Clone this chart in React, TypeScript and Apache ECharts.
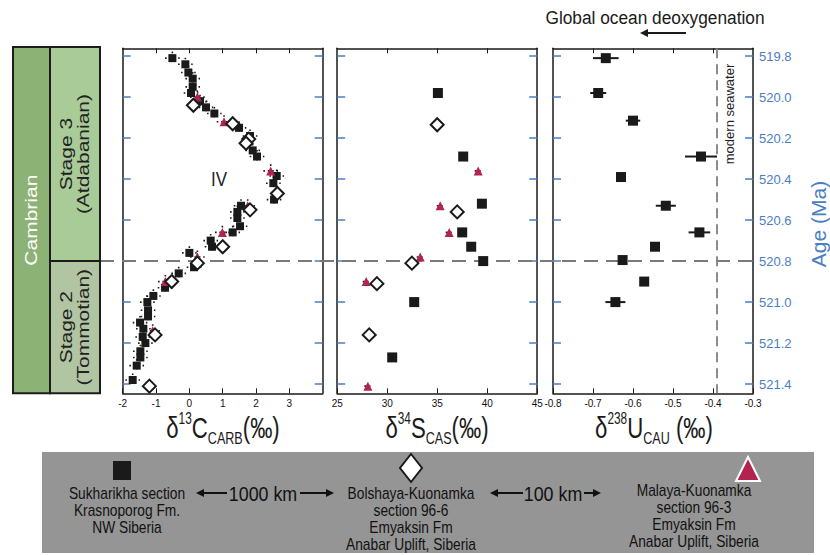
import React, { useEffect, useRef } from "react";
import * as echarts from "echarts";

// ---------- data ----------
const AGE_MIN = 519.762;
const AGE_MAX = 521.445;
const AGE_TICKS = [519.8, 520.0, 520.2, 520.4, 520.6, 520.8, 521.0, 521.2, 521.4];
const STAGE_BOUNDARY = 520.8;

const C_MIN = -2, C_MAX = 4;
const C_LABELS = [-2, -1, 0, 1, 2, 3];
const C_TOP_TICKS = [-1, 0, 1, 2, 3];
const S_MIN = 25, S_MAX = 45;
const S_LABELS = [25, 30, 35, 40, 45];
const S_TOP_TICKS = [30, 35, 40];
const U_MIN = -0.8, U_MAX = -0.3;
const U_LABELS = [-0.8, -0.7, -0.6, -0.5, -0.4, -0.3];
const U_TOP_TICKS = [-0.7, -0.6, -0.5, -0.4];
const MODERN_SEAWATER_U = -0.39;

// [delta13C, age]
const C_SUK = [
  [-0.51, 519.81], [-0.12, 519.84], [-0.03, 519.88], [0.1, 519.91], [0.1, 519.95],
  [0.05, 519.98], [0.32, 520.02], [0.5, 520.05], [0.75, 520.08], [1.49, 520.15],
  [1.82, 520.19], [1.9, 520.26], [2.03, 520.29], [2.62, 520.385], [2.52, 520.42],
  [2.54, 520.5], [1.55, 520.53], [1.44, 520.56], [1.44, 520.59], [1.52, 520.63],
  [1.3, 520.66], [0.64, 520.7], [0.68, 520.73], [0.0, 520.76], [0.14, 520.83],
  [-0.32, 520.86], [-0.73, 520.93], [-1.08, 520.97], [-1.26, 521.0], [-1.24, 521.04],
  [-1.24, 521.07], [-1.48, 521.1], [-1.38, 521.13], [-1.4, 521.17], [-1.32, 521.2],
  [-1.47, 521.24], [-1.47, 521.27], [-1.58, 521.31], [-1.7, 521.38],
];
const C_BOL = [
  [0.12, 520.04], [1.3, 520.13], [1.78, 520.205], [1.7, 520.225], [2.64, 520.47],
  [1.82, 520.55], [1.0, 520.73], [0.24, 520.81], [-0.53, 520.9], [-1.03, 521.16], [-1.2, 521.41],
];
const C_MAL = [
  [0.24, 520.0], [1.04, 520.12], [2.44, 520.36], [1.75, 520.53], [0.99, 520.66],
  [0.24, 520.78], [-0.72, 520.9], [-1.1, 521.14],
];
const C_ERR = 0.22;
const C_AGE_ERR = 0.032;

// [delta34S, age]
const S_SUK = [
  [35.07, 519.98], [37.6, 520.29], [39.47, 520.52], [37.5, 520.66],
  [38.4, 520.73], [39.6, 520.8], [32.7, 521.0], [30.5, 521.27],
];
const S_BOL = [[35.0, 520.135], [37.0, 520.56], [32.47, 520.81], [28.97, 520.91], [28.2, 521.16]];
const S_MAL = [[39.1, 520.36], [35.3, 520.53], [36.2, 520.66], [33.3, 520.78], [27.9, 520.9], [28.07, 521.41]];
const S_ERR = 0.35;

// [delta238U, age, 2sd]
const U_SUK = [
  [-0.668, 519.81, 0.032], [-0.687, 519.98, 0.02], [-0.6, 520.115, 0.018], [-0.43, 520.29, 0.04],
  [-0.63, 520.39, 0], [-0.518, 520.53, 0.025], [-0.434, 520.66, 0.027], [-0.545, 520.73, 0],
  [-0.626, 520.795, 0], [-0.572, 520.9, 0], [-0.644, 521.0, 0.025],
];

// ---------- styles ----------
const FONT = "'Liberation Sans', Arial, Helvetica, sans-serif";
const BLUE = "#4a7ec4";
const INK = "#1a1a1a";
const CRIMSON = "#b3234f";
const GRID_TOP = 48.3;
const GRID_H = 345;
const GRID_W = 200;
const GRID_LEFTS = [122.7, 337.2, 553];

function xAxes(gi: number, min: number, max: number, labels: number[], top: number[]) {
  const line = { show: true, onZero: false, lineStyle: { color: INK, width: 1.5 } };
  return [
    {
      gridIndex: gi, type: "value", min, max, position: "bottom",
      axisLine: line,
      axisTick: { show: true, inside: true, length: 5, customValues: labels, lineStyle: { color: INK, width: 1 } },
      axisLabel: { show: true, customValues: labels, fontSize: 10, color: "#111", margin: 5, fontFamily: FONT },
      splitLine: { show: false },
    },
    {
      gridIndex: gi, type: "value", min, max, position: "top",
      axisLine: line,
      axisTick: { show: true, inside: true, length: 5, customValues: top, lineStyle: { color: INK, width: 1 } },
      axisLabel: { show: false },
      splitLine: { show: false },
    },
  ];
}

function yAxes(gi: number, showRightLabels: boolean) {
  const base = {
    gridIndex: gi, type: "value", min: AGE_MIN, max: AGE_MAX, inverse: true,
    axisLine: { show: true, onZero: false, lineStyle: { color: INK, width: 1.5 } },
    axisTick: { show: true, inside: true, length: 8, customValues: AGE_TICKS, lineStyle: { color: BLUE, width: 1.5 } },
    splitLine: { show: false },
  };
  return [
    { ...base, position: "left", axisLabel: { show: false } },
    {
      ...base, position: "right",
      axisLabel: showRightLabels
        ? { show: true, customValues: AGE_TICKS, color: BLUE, fontSize: 13, fontFamily: FONT, margin: 6, formatter: (v: number) => v.toFixed(1) }
        : { show: false },
    },
  ];
}

function dotBars(points: number[][], ex: number, ey: number, idx: number) {
  return {
    type: "custom", xAxisIndex: idx, yAxisIndex: idx, z: 1, silent: true,
    encode: { x: 0, y: 1 },
    data: points.map((d) => [d[0], d[1]]),
    renderItem: (_p: any, api: any) => {
      const x = api.value(0), y = api.value(1);
      const a = api.coord([x - ex, y]), b = api.coord([x + ex, y]);
      const st = { stroke: INK, lineWidth: 1.6, lineDash: [1.6, 2.8], fill: "none" };
      const children: any[] = [{ type: "line", shape: { x1: a[0], y1: a[1], x2: b[0], y2: b[1] }, style: st }];
      if (ey > 0) {
        const c = api.coord([x, y - ey]), d = api.coord([x, y + ey]);
        children.push({ type: "line", shape: { x1: c[0], y1: c[1], x2: d[0], y2: d[1] }, style: st });
      }
      return { type: "group", children };
    },
  };
}

function uBars() {
  return {
    type: "custom", xAxisIndex: 4, yAxisIndex: 4, z: 1, silent: true,
    encode: { x: 0, y: 1 },
    data: U_SUK.filter((d) => d[2] > 0),
    renderItem: (_p: any, api: any) => {
      const x = api.value(0), y = api.value(1), e = api.value(2);
      const a = api.coord([x - e, y]), b = api.coord([x + e, y]);
      return { type: "line", shape: { x1: a[0], y1: a[1], x2: b[0], y2: b[1] }, style: { stroke: INK, lineWidth: 2 } };
    },
  };
}

const sq = (data: number[][], idx: number, size: number) => ({
  type: "scatter", xAxisIndex: idx, yAxisIndex: idx, z: 3, symbol: "rect", symbolSize: size,
  itemStyle: { color: INK, opacity: 1 }, data: data.map((d) => [d[0], d[1]]),
});
const tri = (data: number[][], idx: number, size: number) => ({
  type: "scatter", xAxisIndex: idx, yAxisIndex: idx, z: 4, symbol: "triangle", symbolSize: size,
  itemStyle: { color: CRIMSON, opacity: 1 }, data,
});
const dia = (data: number[][], idx: number, size: number) => ({
  type: "scatter", xAxisIndex: idx, yAxisIndex: idx, z: 5, symbol: "diamond", symbolSize: size,
  itemStyle: { color: "#ffffff", borderColor: INK, borderWidth: 2, opacity: 1 }, data,
});

function buildOption() {
  const uSeries: any = sq(U_SUK, 4, 10);
  uSeries.markLine = {
    silent: true, symbol: ["none", "none"], animation: false, label: { show: false },
    lineStyle: { color: "#808080", width: 1.8, type: [10, 6] },
    data: [{ xAxis: MODERN_SEAWATER_U }],
  };
  return {
    animation: false,
    backgroundColor: "#ffffff",
    grid: GRID_LEFTS.map((l) => ({ left: l, top: GRID_TOP, width: GRID_W, height: GRID_H, containLabel: false, outerBoundsMode: "none" })),
    xAxis: [
      ...xAxes(0, C_MIN, C_MAX, C_LABELS, C_TOP_TICKS),
      ...xAxes(1, S_MIN, S_MAX, S_LABELS, S_TOP_TICKS),
      ...xAxes(2, U_MIN, U_MAX, U_LABELS, U_TOP_TICKS),
    ],
    yAxis: [...yAxes(0, false), ...yAxes(1, false), ...yAxes(2, true)],
    series: [
      dotBars([...C_SUK, ...C_MAL], C_ERR, C_AGE_ERR, 0),
      sq(C_SUK, 0, 8),
      tri(C_MAL, 0, 9),
      dia(C_BOL, 0, 13),
      dotBars([...S_SUK, ...S_MAL], S_ERR, 0, 2),
      sq(S_SUK, 2, 10),
      tri(S_MAL, 2, 9),
      dia(S_BOL, 2, 13),
      uBars(),
      uSeries,
    ],
  };
}

function text(t: string, x: number, y: number, size: number, extra: any = {}) {
  const { fill, rich, lh, rotation, scaleX, scaleY, align } = extra;
  return {
    type: "text", x, y, z: 10, silent: true,
    rotation: rotation || 0, scaleX: scaleX || 1, scaleY: scaleY || 1,
    style: {
      text: t, fontSize: size, fontFamily: FONT, fill: fill || INK,
      align: align || "center", verticalAlign: "middle",
      textAlign: align || "center", textVerticalAlign: "middle",
      lineHeight: lh, rich,
    },
  };
}

function arrow(xTail: number, xHead: number, y: number, color = INK) {
  const dir = xHead > xTail ? 1 : -1;
  const hl = 8, hw = 4;
  return [
    { type: "line", z: 10, silent: true, shape: { x1: xTail, y1: y, x2: xHead - dir * hl * 0.8, y2: y }, style: { stroke: color, lineWidth: 2 } },
    { type: "polygon", z: 10, silent: true, shape: { points: [[xHead, y], [xHead - dir * hl, y - hw], [xHead - dir * hl, y + hw]] }, style: { fill: color } },
  ];
}

function titleRich(main: string, sup: string, letter: string, sub: string, tail: string, cx: number) {
  const t = `{m|${main}}{sup|${sup}}{m|${letter}}{sub|${sub}}{m|${tail}}`;
  return text(t, cx, 428, 30, {
    scaleX: 0.74,
    rich: {
      m: { fontSize: 30, fontFamily: FONT, fill: INK, lineHeight: 36 },
      sup: { fontSize: 16, fontFamily: FONT, fill: INK, lineHeight: 16, verticalAlign: "top" },
      sub: { fontSize: 17, fontFamily: FONT, fill: INK, lineHeight: 16, verticalAlign: "bottom" },
    },
  });
}

function buildGraphics(yB: number, xMS: number) {
  const top = GRID_TOP - 1.3;
  const bottom = GRID_TOP + GRID_H;
  const g: any[] = [];
  // stratigraphic column
  g.push({ type: "rect", z: 5, shape: { x: 13, y: top, width: 37, height: bottom - top }, style: { fill: "#8db276", stroke: "#1c1c1c", lineWidth: 2 } });
  g.push({ type: "rect", z: 5, shape: { x: 50, y: top, width: 50, height: yB - top }, style: { fill: "#a9cb98", stroke: "#1c1c1c", lineWidth: 2 } });
  g.push({ type: "rect", z: 5, shape: { x: 50, y: yB, width: 50, height: bottom - yB }, style: { fill: "#b2c5a2", stroke: "#1c1c1c", lineWidth: 2 } });
  g.push(text("Cambrian", 31.5, (top + bottom) / 2, 21, { fill: "#ffffff", rotation: Math.PI / 2, scaleY: 0.82 }));
  g.push(text("Stage 3\n(Atdabanian)", 75, (top + yB) / 2, 21, { lh: 21, rotation: Math.PI / 2, scaleY: 0.82, fill: "#222" }));
  g.push(text("Stage 2\n(Tommotian)", 75, (yB + bottom) / 2, 21, { lh: 21, rotation: Math.PI / 2, scaleY: 0.82, fill: "#222" }));
  // boundary dashed line
  g.push({ type: "line", z: 1, silent: true, shape: { x1: 100, y1: yB, x2: 758, y2: yB }, style: { stroke: "#7a7a7a", lineWidth: 2, lineDash: [14, 8] } });
  // annotations
  g.push(text("IV", 219, 179, 20, { scaleX: 0.85, fill: "#222" }));
  g.push(text("modern seawater", xMS + 12, 114, 13, { rotation: Math.PI / 2, fill: "#222" }));
  g.push(text("Age (Ma)", 818, 224, 21, { rotation: Math.PI / 2, fill: BLUE }));
  g.push(text("Global ocean deoxygenation", 655, 18, 19, { scaleX: 0.91, fill: INK }));
  g.push(...arrow(686, 640, 33));
  // axis titles
  g.push(titleRich("δ", "13", "C", "CARB", "(‰)", 223));
  g.push(titleRich("δ", "34", "S", "CAS", "(‰)", 437));
  g.push(titleRich("δ", "238", "U", "CAU", " (‰)", 654));
  // legend box
  g.push({ type: "rect", z: 6, shape: { x: 42, y: 452, width: 772, height: 101 }, style: { fill: "#959595" } });
  g.push({ type: "rect", z: 10, shape: { x: 113, y: 461, width: 18, height: 19 }, style: { fill: INK } });
  g.push({ type: "polygon", z: 10, shape: { points: [[411, 454], [422, 468], [411, 482], [400, 468]] }, style: { fill: "#ffffff", stroke: INK, lineWidth: 2 } });
  g.push({ type: "polygon", z: 10, shape: { points: [[748, 457], [760, 481], [736, 481]] }, style: { fill: CRIMSON, stroke: "#ffffff", lineWidth: 2 } });
  const lt = { lh: 17, scaleX: 0.86, fill: "#111" };
  g.push(text("Sukharikha section\nKrasnoporog Fm.\nNW Siberia", 127, 510, 16, lt));
  g.push(text("Bolshaya-Kuonamka\nsection 96-6\nEmyaksin Fm\nAnabar Uplift, Siberia", 411, 518.5, 16, lt));
  g.push(text("Malaya-Kuonamka\nsection 96-3\nEmyaksin Fm\nAnabar Uplift, Siberia", 694, 516, 16, lt));
  g.push(text("1000 km", 263, 493, 21, { scaleX: 0.85, fill: "#111" }));
  g.push(...arrow(227, 196, 493, "#111"));
  g.push(...arrow(300, 334, 493, "#111"));
  g.push(text("100 km", 553, 493, 21, { scaleX: 0.85, fill: "#111" }));
  g.push(...arrow(523, 490, 493, "#111"));
  g.push(...arrow(584, 601, 493, "#111"));
  return g;
}

export default function App() {
  const ref = useRef<HTMLDivElement>(null);
  useEffect(() => {
    if (!ref.current) return;
    const chart = echarts.init(ref.current, undefined, { renderer: "svg" });
    chart.setOption(buildOption() as any);
    const yB = chart.convertToPixel({ yAxisIndex: 0 } as any, STAGE_BOUNDARY) as unknown as number;
    const xMS = chart.convertToPixel({ xAxisIndex: 4 } as any, MODERN_SEAWATER_U) as unknown as number;
    chart.setOption({ graphic: buildGraphics(yB, xMS) } as any);
    return () => chart.dispose();
  }, []);
  return <div ref={ref} style={{ position: "absolute", left: 0, top: 0, width: 830, height: 555 }} />;
}
